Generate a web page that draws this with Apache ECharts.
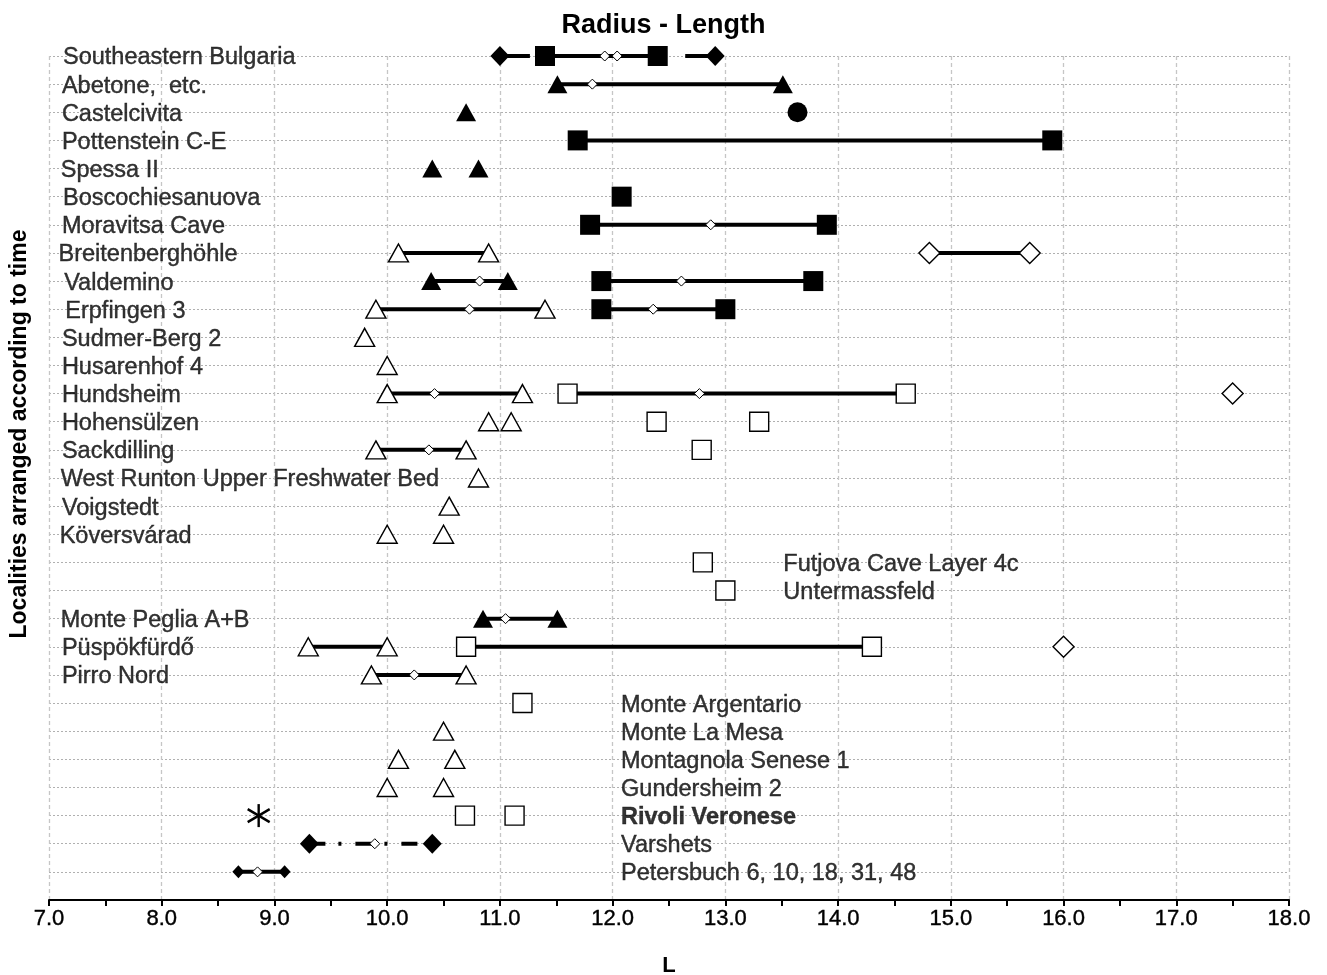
<!DOCTYPE html>
<html>
<head>
<meta charset="utf-8">
<script src="https://cdn.jsdelivr.net/npm/echarts@6/dist/echarts.min.js"></script>
<style>html,body{margin:0;padding:0;background:#fff;}#chart{width:1327px;height:975px;}</style>
</head>
<body>
<div id="chart"></div>
<script>
// ---------- DATA ----------
const localities = [
  'Southeastern Bulgaria', 'Abetone,  etc.', 'Castelcivita', 'Pottenstein C-E', 'Spessa II',
  'Boscochiesanuova', 'Moravitsa Cave', 'Breitenberghöhle', 'Valdemino', 'Erpfingen 3',
  'Sudmer-Berg 2', 'Husarenhof 4', 'Hundsheim', 'Hohensülzen', 'Sackdilling',
  'West Runton Upper Freshwater Bed', 'Voigstedt', 'Köversvárad', 'Futjova Cave Layer 4c', 'Untermassfeld',
  'Monte Peglia A+B', 'Püspökfürdő', 'Pirro Nord', 'Monte Argentario', 'Monte La Mesa',
  'Montagnola Senese 1', 'Gundersheim 2', 'Rivoli Veronese', 'Varshets', 'Petersbuch 6, 10, 18, 31, 48'
];
const xTicks = [7, 8, 9, 10, 11, 12, 13, 14, 15, 16, 17, 18];

const filledDiamonds = [[11.00, 'Southeastern Bulgaria'], [12.91, 'Southeastern Bulgaria'], [9.31, 'Varshets'], [10.40, 'Varshets']];
const smallFilledDiamonds = [[8.68, 'Petersbuch 6, 10, 18, 31, 48'], [9.09, 'Petersbuch 6, 10, 18, 31, 48']];
const filledSquares = [
  [11.40, 'Southeastern Bulgaria'], [12.40, 'Southeastern Bulgaria'], [11.69, 'Pottenstein C-E'], [15.90, 'Pottenstein C-E'],
  [12.08, 'Boscochiesanuova'], [11.80, 'Moravitsa Cave'], [13.90, 'Moravitsa Cave'], [11.90, 'Valdemino'], [13.78, 'Valdemino'],
  [11.90, 'Erpfingen 3'], [13.00, 'Erpfingen 3']
];
const filledTriangles = [
  [11.51, 'Abetone,  etc.'], [13.51, 'Abetone,  etc.'], [10.70, 'Castelcivita'], [10.40, 'Spessa II'], [10.81, 'Spessa II'],
  [10.39, 'Valdemino'], [11.07, 'Valdemino'], [10.85, 'Monte Peglia A+B'], [11.51, 'Monte Peglia A+B']
];
const filledCircles = [[13.64, 'Castelcivita']];
const openTriangles = [
  [10.10, 'Breitenberghöhle'], [10.90, 'Breitenberghöhle'], [9.90, 'Erpfingen 3'], [11.40, 'Erpfingen 3'], [9.80, 'Sudmer-Berg 2'],
  [10.00, 'Husarenhof 4'], [10.00, 'Hundsheim'], [11.20, 'Hundsheim'], [10.90, 'Hohensülzen'], [11.10, 'Hohensülzen'],
  [9.90, 'Sackdilling'], [10.70, 'Sackdilling'], [10.81, 'West Runton Upper Freshwater Bed'], [10.55, 'Voigstedt'],
  [10.00, 'Köversvárad'], [10.50, 'Köversvárad'], [9.30, 'Püspökfürdő'], [10.00, 'Püspökfürdő'], [9.86, 'Pirro Nord'],
  [10.70, 'Pirro Nord'], [10.50, 'Monte La Mesa'], [10.10, 'Montagnola Senese 1'], [10.60, 'Montagnola Senese 1'],
  [10.00, 'Gundersheim 2'], [10.50, 'Gundersheim 2']
];
const openSquares = [
  [11.60, 'Hundsheim'], [14.60, 'Hundsheim'], [12.39, 'Hohensülzen'], [13.30, 'Hohensülzen'], [12.79, 'Sackdilling'],
  [12.80, 'Futjova Cave Layer 4c'], [13.00, 'Untermassfeld'], [10.70, 'Püspökfürdő'], [14.30, 'Püspökfürdő'],
  [11.20, 'Monte Argentario'], [10.69, 'Rivoli Veronese'], [11.13, 'Rivoli Veronese']
];
const openDiamonds = [[14.81, 'Breitenberghöhle'], [15.70, 'Breitenberghöhle'], [17.50, 'Hundsheim'], [16.00, 'Püspökfürdő']];
const meanDiamonds = [
  [11.93, 'Southeastern Bulgaria'], [12.04, 'Southeastern Bulgaria'], [11.82, 'Abetone,  etc.'], [12.87, 'Moravitsa Cave'],
  [10.82, 'Valdemino'], [12.61, 'Valdemino'], [10.73, 'Erpfingen 3'], [12.36, 'Erpfingen 3'], [10.42, 'Hundsheim'],
  [12.77, 'Hundsheim'], [10.37, 'Sackdilling'], [11.05, 'Monte Peglia A+B'], [10.24, 'Pirro Nord'], [9.89, 'Varshets'],
  [8.85, 'Petersbuch 6, 10, 18, 31, 48']
];
const asterisks = [[8.86, 'Rivoli Veronese']];

const solidRanges = [
  [11.40, 12.40, 'Southeastern Bulgaria'], [11.51, 13.51, 'Abetone,  etc.'], [11.69, 15.90, 'Pottenstein C-E'],
  [11.80, 13.90, 'Moravitsa Cave'], [10.10, 10.90, 'Breitenberghöhle'], [14.81, 15.70, 'Breitenberghöhle'],
  [10.39, 11.07, 'Valdemino'], [11.90, 13.78, 'Valdemino'], [9.90, 11.40, 'Erpfingen 3'], [11.90, 13.00, 'Erpfingen 3'],
  [10.00, 11.20, 'Hundsheim'], [11.60, 14.60, 'Hundsheim'], [9.90, 10.70, 'Sackdilling'], [10.85, 11.51, 'Monte Peglia A+B'],
  [9.30, 10.00, 'Püspökfürdő'], [10.70, 14.30, 'Püspökfürdő'], [9.86, 10.70, 'Pirro Nord'],
  [8.68, 9.09, 'Petersbuch 6, 10, 18, 31, 48']
];
const dashedRanges = [[11.00, 11.40, 'Southeastern Bulgaria'], [12.91, 12.40, 'Southeastern Bulgaria']];
const dashDotRanges = [[9.31, 10.40, 'Varshets']];

// label anchor (L units) for each locality name
const labelX = [7.12, 7.11, 7.11, 7.11, 7.10, 7.12, 7.11, 7.08, 7.13, 7.14, 7.11, 7.11, 7.11, 7.11, 7.11,
  7.10, 7.11, 7.09, 13.51, 13.51, 7.10, 7.11, 7.11, 12.07, 12.07, 12.07, 12.07, 12.07, 12.07, 12.07];

// ---------- CHART ----------
const FONT = '"Liberation Sans", Arial, Helvetica, sans-serif';
const row = n => localities.indexOf(n);
const pts = arr => arr.map(d => [d[0], row(d[1])]);
const rng = arr => arr.map(d => [d[0], d[1], row(d[2])]);

function rangeSeries(arr, dash) {
  return {
    type: 'custom', z: 2, silent: true,
    data: rng(arr),
    encode: { x: [0, 1], y: 2 },
    renderItem: function (params, api) {
      const p1 = api.coord([api.value(0), api.value(2)]);
      const p2 = api.coord([api.value(1), api.value(2)]);
      return {
        type: 'line',
        shape: { x1: p1[0], y1: p1[1], x2: p2[0], y2: p2[1] },
        style: { stroke: '#000', lineWidth: 4, lineDash: dash || null, lineCap: 'butt' }
      };
    }
  };
}
function markSeries(arr, symbol, size, fill, border, z) {
  return {
    type: 'scatter', z: z || 3, silent: true,
    data: pts(arr), symbol: symbol, symbolSize: size,
    itemStyle: { color: fill, borderColor: '#000', borderWidth: border, opacity: 1 }
  };
}

const labelData = localities.map((n, i) => {
  const item = { value: [labelX[i], i], name: n };
  if (n === 'Rivoli Veronese') item.label = { fontWeight: 'bold' };
  return item;
});

const chart = echarts.init(document.getElementById('chart'), null, { renderer: 'canvas' });
chart.setOption({
  animation: false,
  backgroundColor: '#fff',
  title: {
    text: 'Radius - Length', left: 'center', top: 7,
    textStyle: { fontFamily: FONT, fontSize: 27, fontWeight: 'bold', color: '#000' }
  },
  graphic: [{
    type: 'text', x: 20, y: 434, rotation: Math.PI / 2, silent: true,
    style: {
      text: 'Localities arranged according to time', fill: '#000',
      font: 'bold 23px "Liberation Sans", Arial, sans-serif', align: 'center', verticalAlign: 'middle'
    }
  }],
  grid: { left: 49, right: 38, top: 56, bottom: 75, containLabel: false, outerBoundsMode: 'none' },
  xAxis: {
    type: 'value', min: xTicks[0], max: xTicks[xTicks.length - 1], interval: 1,
    name: 'L', nameLocation: 'middle', nameGap: 55,
    nameTextStyle: { fontFamily: FONT, fontSize: 22, fontWeight: 'bold', color: '#000' },
    axisLine: { onZero: false, lineStyle: { color: '#000', width: 2 } },
    axisTick: { length: 6, lineStyle: { color: '#000', width: 2 } },
    minorTick: { show: true, splitNumber: 2, length: 6, lineStyle: { color: '#000', width: 2 } },
    axisLabel: {
      formatter: v => v.toFixed(1), fontFamily: FONT, fontSize: 22, color: '#000', margin: 8,
      textBorderColor: '#000', textBorderWidth: 0.4
    },
    splitLine: { show: true, lineStyle: { color: '#c6c6c6', type: [4, 3], width: 1.3 } },
    minorSplitLine: { show: false }
  },
  yAxis: {
    type: 'value', min: 0, max: localities.length, interval: 1, inverse: true,
    axisLine: { show: false }, axisTick: { show: false }, axisLabel: { show: false },
    splitLine: { show: true, lineStyle: { color: '#b0b0b0', type: [2, 2], width: 1 } }
  },
  series: [
    {
      type: 'scatter', z: 1, silent: true, data: labelData, symbolSize: 1,
      itemStyle: { color: 'rgba(0,0,0,0)' },
      label: {
        show: true, position: 'right', distance: 0, verticalAlign: 'middle', offset: [0, 2],
        formatter: '{b}', fontFamily: FONT, fontSize: 23.5, color: '#000',
        textBorderColor: '#000', textBorderWidth: 0.4
      }
    },
    rangeSeries(solidRanges, null),
    rangeSeries(dashedRanges, [30, 100]),
    rangeSeries(dashDotRanges, [16, 13, 3, 14]),
    markSeries(filledDiamonds, 'diamond', [19, 20], '#000', 0),
    markSeries(smallFilledDiamonds, 'diamond', [12, 13], '#000', 0),
    markSeries(filledSquares, 'rect', 20, '#000', 0),
    markSeries(filledTriangles, 'triangle', [20, 18], '#000', 0),
    markSeries(filledCircles, 'circle', 20, '#000', 0),
    markSeries(openTriangles, 'triangle', [20, 18], '#fff', 1.4),
    markSeries(openSquares, 'rect', 19, '#fff', 1.4),
    markSeries(openDiamonds, 'diamond', [21, 21], '#fff', 1.4),
    markSeries(meanDiamonds, 'diamond', [10, 10], '#fff', 1, 4),
    {
      type: 'custom', z: 3, silent: true, data: pts(asterisks),
      encode: { x: 0, y: 1 },
      renderItem: function (params, api) {
        const c = api.coord([api.value(0), api.value(1)]);
        const ln = (dx1, dy1, dx2, dy2) => ({
          type: 'line',
          shape: { x1: c[0] + dx1, y1: c[1] + dy1, x2: c[0] + dx2, y2: c[1] + dy2 },
          style: { stroke: '#000', lineWidth: 2.4 }
        });
        return { type: 'group', children: [ln(0, -11.5, 0, 11.5), ln(-11, -6.5, 11, 6.5), ln(-11, 6.5, 11, -6.5)] };
      }
    }
  ]
});
</script>
</body>
</html>
